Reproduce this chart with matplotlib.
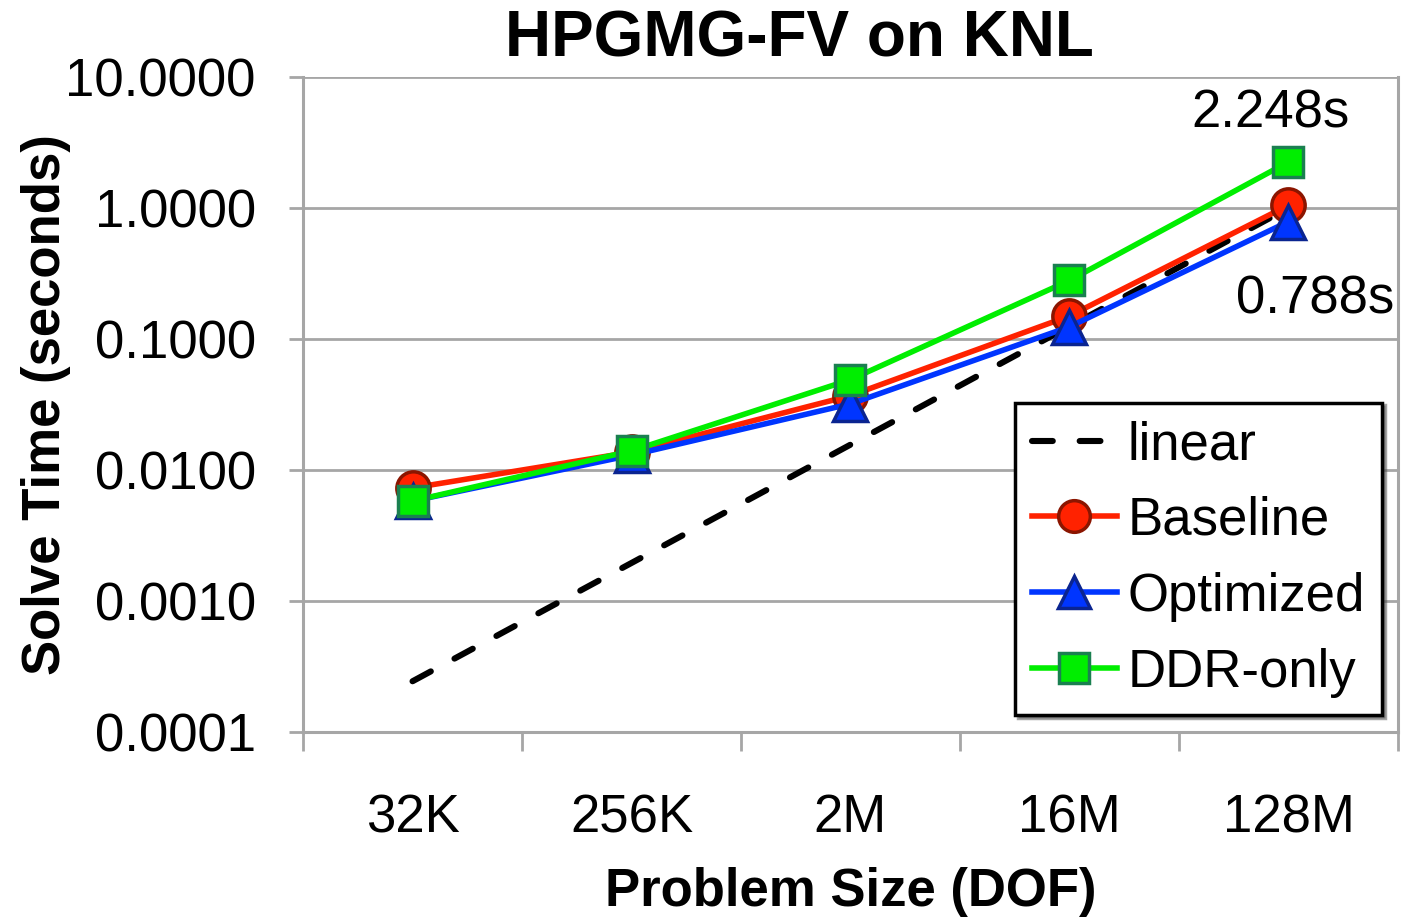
import numpy as np
import matplotlib
matplotlib.use('Agg')
import matplotlib.pyplot as plt

plt.rcParams['font.family'] = ['Liberation Sans', 'DejaVu Sans']

# Data
sizes = ['32K', '256K', '2M', '16M', '128M']
linear = [1 / 4096, 1 / 512, 1 / 64, 1 / 8, 1.0]
baseline = [0.0073, 0.0137, 0.037, 0.150, 1.05]
optimized = [0.0058, 0.0130, 0.032, 0.124, 0.788]
ddr_only = [0.0058, 0.0140, 0.049, 0.280, 2.248]

x = np.arange(len(sizes))

fig = plt.figure(figsize=(14.03, 9.17), dpi=100)
ax = fig.add_axes([0.216, 0.2017, 0.7804, 0.7143])

grid_col = '#a6a6a6'
ax.plot(x, linear, color='black', linestyle=(0, (3.4, 4.4)), linewidth=4.4,
        dash_capstyle='round', label='linear', zorder=3)
ax.plot(x, baseline, color='#ff2200', linewidth=4, marker='o', markersize=24,
        markerfacecolor='#ff2200', markeredgecolor='#8b1500', markeredgewidth=2.5,
        label='Baseline', zorder=4)
ax.plot(x, optimized, color='#0035ff', linewidth=4, marker='^', markersize=25,
        markerfacecolor='#0035ff', markeredgecolor='#0a2490', markeredgewidth=2.5,
        label='Optimized', zorder=5)
ax.plot(x, ddr_only, color='#00ee00', linewidth=4, marker='s', markersize=22,
        markerfacecolor='#00ee00', markeredgecolor='#1a8050', markeredgewidth=2.5,
        label='DDR-only', zorder=6)

ax.set_yscale('log')
ax.set_ylim(0.0001, 10)
ax.set_xlim(-0.5, len(sizes) - 0.5)
ax.set_yticks([0.0001, 0.001, 0.01, 0.1, 1, 10])
ax.set_yticklabels(['0.0001', '0.0010', '0.0100', '0.1000', '1.0000', '10.0000'])
ax.yaxis.set_minor_locator(matplotlib.ticker.NullLocator())
ax.set_xticks(x)
ax.set_xticklabels(sizes)
ax.set_xticks(np.arange(-0.5, len(sizes)), minor=True)
ax.tick_params(axis='x', which='major', length=0, labelsize=38, pad=44)
ax.tick_params(axis='x', which='minor', length=14, width=2, color=grid_col, direction='out')
ax.tick_params(axis='y', which='major', length=10, width=2, color=grid_col, labelsize=38, pad=24)

ax.yaxis.grid(True, color=grid_col, linewidth=2)
ax.set_axisbelow(True)
for side in ['left', 'right', 'bottom']:
    ax.spines[side].set_color(grid_col)
    ax.spines[side].set_linewidth(2.2)
ax.spines['top'].set_visible(False)

fig.text(0.5695, 0.957, 'HPGMG-FV on KNL', fontsize=46, fontweight='bold',
         ha='center', va='center')
ax.set_xlabel('Problem Size (DOF)', fontsize=38, fontweight='bold', labelpad=17)
ax.set_ylabel('Solve Time (seconds)', fontsize=38, fontweight='bold', labelpad=-4)

ax.annotate('2.248s', xy=(x[-1], ddr_only[-1]), xytext=(-13, 35), textcoords='offset points',
            ha='center', va='center', fontsize=38)
ax.annotate('0.788s', xy=(x[-1], optimized[-1]), xytext=(19, -56), textcoords='offset points',
            ha='center', va='center', fontsize=38)

leg = ax.legend(loc='lower right', bbox_to_anchor=(0.9854, 0.026), borderaxespad=0,
                fontsize=38, frameon=True, fancybox=False, shadow=True,
                handlelength=1.6, handletextpad=0.2, labelspacing=0.49,
                borderpad=0.33, markerscale=0.95)
leg.get_frame().set_edgecolor('black')
leg.get_frame().set_linewidth(2.5)

fig.savefig('out.png', dpi=100)
